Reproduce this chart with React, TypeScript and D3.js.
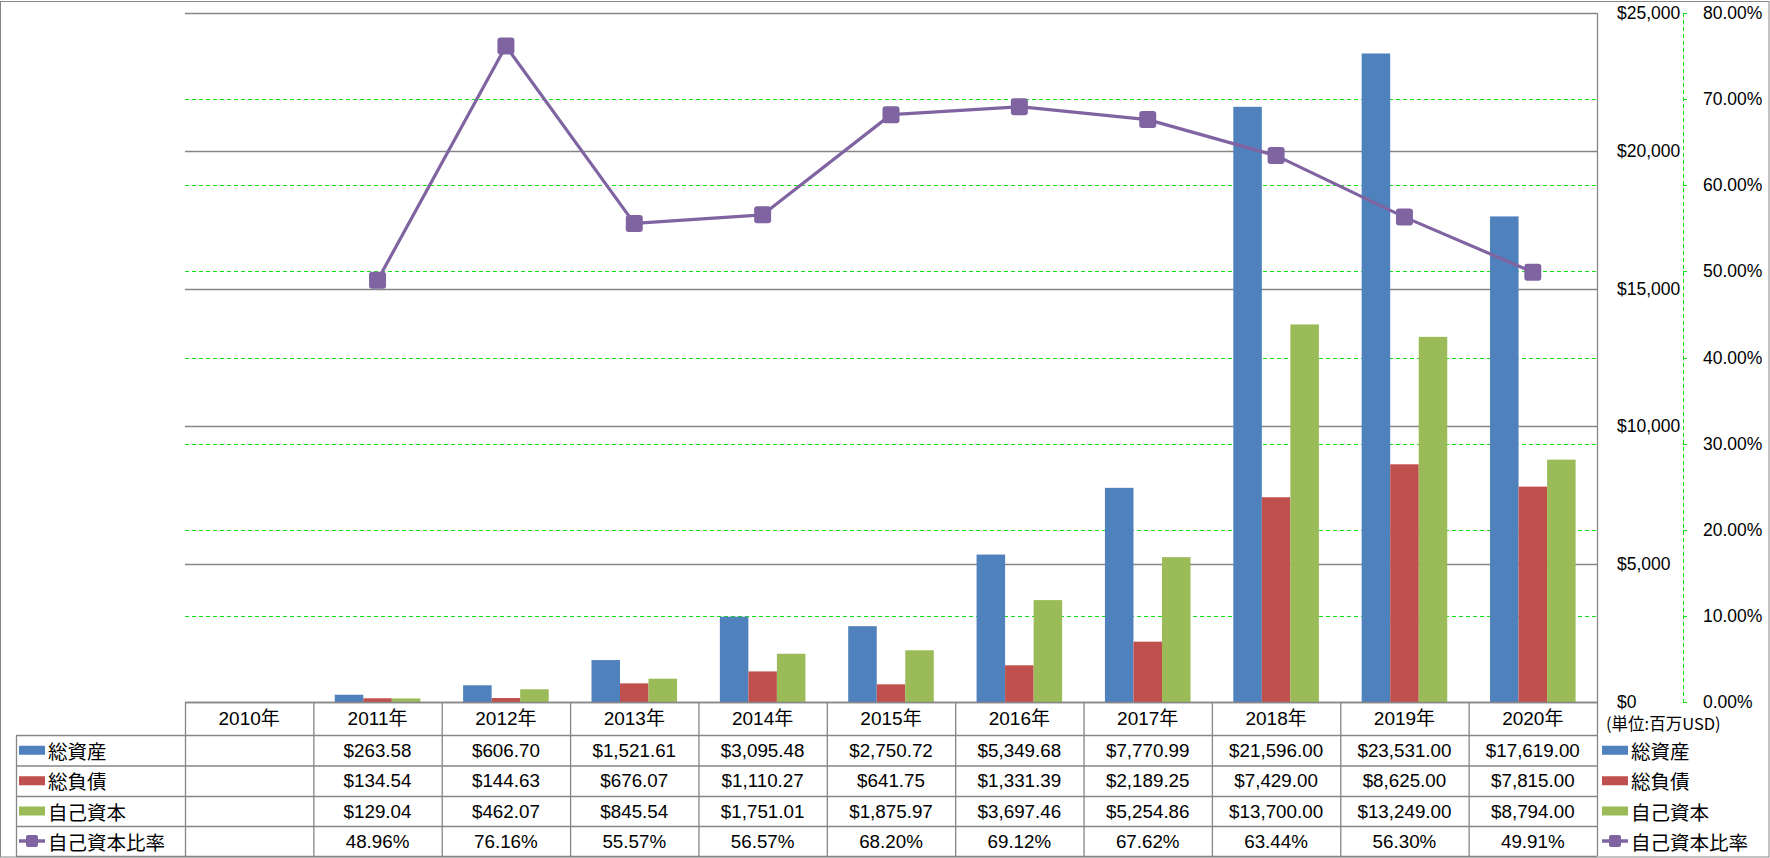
import React from 'react';
import * as d3 from 'd3';

const years = ['2010年', '2011年', '2012年', '2013年', '2014年', '2015年', '2016年', '2017年', '2018年', '2019年', '2020年'];
const totalAssets: (number | null)[] = [null, 263.58, 606.70, 1521.61, 3095.48, 2750.72, 5349.68, 7770.99, 21596.00, 23531.00, 17619.00];
const totalLiabilities: (number | null)[] = [null, 134.54, 144.63, 676.07, 1110.27, 641.75, 1331.39, 2189.25, 7429.00, 8625.00, 7815.00];
const equity: (number | null)[] = [null, 129.04, 462.07, 845.54, 1751.01, 1875.97, 3697.46, 5254.86, 13700.00, 13249.00, 8794.00];
const equityRatio: (number | null)[] = [null, 48.96, 76.16, 55.57, 56.57, 68.20, 69.12, 67.62, 63.44, 56.30, 49.91];
const usdTicks = [0, 5000, 10000, 15000, 20000, 25000];
const pctTicks = [0, 10, 20, 30, 40, 50, 60, 70, 80];
const barSeries = [
  { name: '総資産', values: totalAssets, color: '#4F81BD' },
  { name: '総負債', values: totalLiabilities, color: '#C0504D' },
  { name: '自己資本', values: equity, color: '#9BBB59' },
];
const lineName = '自己資本比率';
const lineColor = '#8064A2';
const unitLabel = '(単位:百万USD)';

const W = 1770, H = 858;
const plotL = 185, plotR = 1597, plotT = 13, plotB = 702;
const rowLines = [702, 735, 765.5, 796, 826, 856];
const tableL = 16;
const gridGrey = '#868686';
const green = '#11E011';
const numFont = "'Liberation Sans', 'Noto Sans CJK JP', sans-serif";
const cjkFont = "'Noto Sans CJK JP', sans-serif";

export default function App() {
  const x = d3.scaleBand<string>().domain(years).range([plotL, plotR]).paddingInner(0).paddingOuter(0);
  const xs = d3.scaleBand<string>().domain(barSeries.map(s => s.name)).range([0, x.bandwidth()]).paddingInner(0).paddingOuter(0.75);
  const y = d3.scaleLinear().domain([0, 25000]).range([plotB, plotT]);
  const yp = d3.scaleLinear().domain([0, 80]).range([plotB, plotT]);
  const fmtUsd = d3.format(',');
  const fmtVal = d3.format(',.2f');

  const linePts = years
    .map((yr, i) => ({ yr, v: equityRatio[i] }))
    .filter(d => d.v != null) as { yr: string; v: number }[];
  const lineGen = d3.line<{ yr: string; v: number }>()
    .x(d => (x(d.yr) as number) + x.bandwidth() / 2)
    .y(d => yp(d.v));

  const rowCenters = [0, 1, 2, 3, 4].map(i => (rowLines[i] + rowLines[i + 1]) / 2);
  const axisX = 1683;

  const legendItems = [...barSeries.map(s => ({ name: s.name, color: s.color, line: false })), { name: lineName, color: lineColor, line: true }];

  const renderKey = (item: { color: string; line: boolean }, x0: number, cy: number, msize: number) =>
    item.line ? (
      <g>
        <line x1={x0} x2={x0 + 26} y1={cy} y2={cy} stroke={item.color} strokeWidth={3.5} />
        <rect x={x0 + 13 - msize / 2} y={cy - msize / 2} width={msize} height={msize} rx={2} fill={item.color} />
      </g>
    ) : (
      <rect x={x0} y={cy - 4.5} width={26} height={9} fill={item.color} />
    );

  return (
    <svg width={W} height={H} style={{ position: 'fixed', left: 0, top: 0, background: '#fff' }}>
      <rect x={0.5} y={1.5} width={W - 1.5} height={H - 2.5} fill="#fff" stroke={gridGrey} strokeWidth={1} />
      {/* green dashed percent gridlines */}
      {pctTicks.filter(t => t > 0).map(t => (
        <line key={'pg' + t} x1={plotL} x2={plotR} y1={Math.round(yp(t)) + 0.5} y2={Math.round(yp(t)) + 0.5} stroke={green} strokeWidth={1} strokeDasharray="4,3" />
      ))}
      {/* grey usd gridlines */}
      {usdTicks.map(t => (
        <line key={'ug' + t} x1={plotL} x2={plotR} y1={Math.round(y(t)) + 0.5} y2={Math.round(y(t)) + 0.5} stroke={gridGrey} strokeWidth={1.3} />
      ))}
      {/* bars */}
      {barSeries.map(s => (
        <g key={s.name}>
          {years.map((yr, i) => {
            const v = s.values[i];
            if (v == null) return null;
            const bx = (x(yr) as number) + (xs(s.name) as number);
            return <rect key={yr} x={bx} y={y(v)} width={xs.bandwidth()} height={plotB - y(v)} fill={s.color} />;
          })}
        </g>
      ))}
      {/* line */}
      <path d={lineGen(linePts) || ''} fill="none" stroke={lineColor} strokeWidth={3.2} strokeLinejoin="round" />
      {linePts.map(d => (
        <rect key={'m' + d.yr} x={(x(d.yr) as number) + x.bandwidth() / 2 - 8.5} y={yp(d.v) - 8.5} width={17} height={17} rx={3} fill={lineColor} />
      ))}
      {/* right usd axis labels */}
      {usdTicks.map(t => (
        <text key={'ul' + t} x={1617} y={y(t)} dominantBaseline="central" fontFamily={numFont} fontSize={17.5} fill="#000">{'$' + fmtUsd(t)}</text>
      ))}
      {/* percent axis */}
      <line x1={axisX + 0.5} x2={axisX + 0.5} y1={plotT} y2={plotB} stroke={green} strokeWidth={1} strokeDasharray="4,3" />
      {pctTicks.map(t => (
        <g key={'pl' + t}>
          <line x1={axisX} x2={axisX + 4} y1={Math.round(yp(t)) + 0.5} y2={Math.round(yp(t)) + 0.5} stroke={green} strokeWidth={1} />
          <text x={1703} y={yp(t)} dominantBaseline="central" fontFamily={numFont} fontSize={17.5} fill="#000">{t.toFixed(2) + '%'}</text>
        </g>
      ))}
      {/* data table */}
      {rowLines.map((ly, i) => (
        <line key={'rl' + i} x1={i === 0 ? plotL : tableL} x2={plotR} y1={ly + 0.5} y2={ly + 0.5} stroke={gridGrey} strokeWidth={1.3} />
      ))}
      <line x1={tableL + 0.5} x2={tableL + 0.5} y1={rowLines[1]} y2={rowLines[5]} stroke={gridGrey} strokeWidth={1.3} />
      {years.map(yr => (
        <line key={'cl' + yr} x1={(x(yr) as number) + 0.5} x2={(x(yr) as number) + 0.5} y1={rowLines[0]} y2={rowLines[5]} stroke={gridGrey} strokeWidth={1.3} />
      ))}
      <line x1={plotR + 0.5} x2={plotR + 0.5} y1={plotT} y2={rowLines[5]} stroke={gridGrey} strokeWidth={1.3} />
      {years.map(yr => (
        <text key={'h' + yr} x={(x(yr) as number) + x.bandwidth() / 2} y={rowCenters[0]} textAnchor="middle" dominantBaseline="central" fontFamily={numFont} fontSize={19} fill="#000">{yr}</text>
      ))}
      {barSeries.map((s, r) => (
        <g key={'row' + s.name}>
          {years.map((yr, i) => {
            const v = s.values[i];
            if (v == null) return null;
            return <text key={yr} x={(x(yr) as number) + x.bandwidth() / 2} y={rowCenters[r + 1]} textAnchor="middle" dominantBaseline="central" fontFamily={numFont} fontSize={18.8} fill="#000">{'$' + fmtVal(v)}</text>;
          })}
        </g>
      ))}
      {years.map((yr, i) => {
        const v = equityRatio[i];
        if (v == null) return null;
        return <text key={'r' + yr} x={(x(yr) as number) + x.bandwidth() / 2} y={rowCenters[4]} textAnchor="middle" dominantBaseline="central" fontFamily={numFont} fontSize={18.8} fill="#000">{v.toFixed(2) + '%'}</text>;
      })}
      {/* table row keys */}
      {legendItems.map((it, r) => (
        <g key={'tk' + it.name}>
          {renderKey(it, 19, rowCenters[r + 1], 12)}
          <text x={48} y={rowCenters[r + 1]} dominantBaseline="central" fontFamily={cjkFont} fontSize={19.5} fill="#000">{it.name}</text>
        </g>
      ))}
      {/* right legend */}
      <text x={1606} y={723} dominantBaseline="central" fontFamily={cjkFont} fontSize={16.5} fill="#000">{unitLabel}</text>
      {legendItems.map((it, r) => (
        <g key={'rk' + it.name}>
          {renderKey(it, 1602, rowCenters[r + 1], 12)}
          <text x={1631} y={rowCenters[r + 1]} dominantBaseline="central" fontFamily={cjkFont} fontSize={19.5} fill="#000">{it.name}</text>
        </g>
      ))}
    </svg>
  );
}
